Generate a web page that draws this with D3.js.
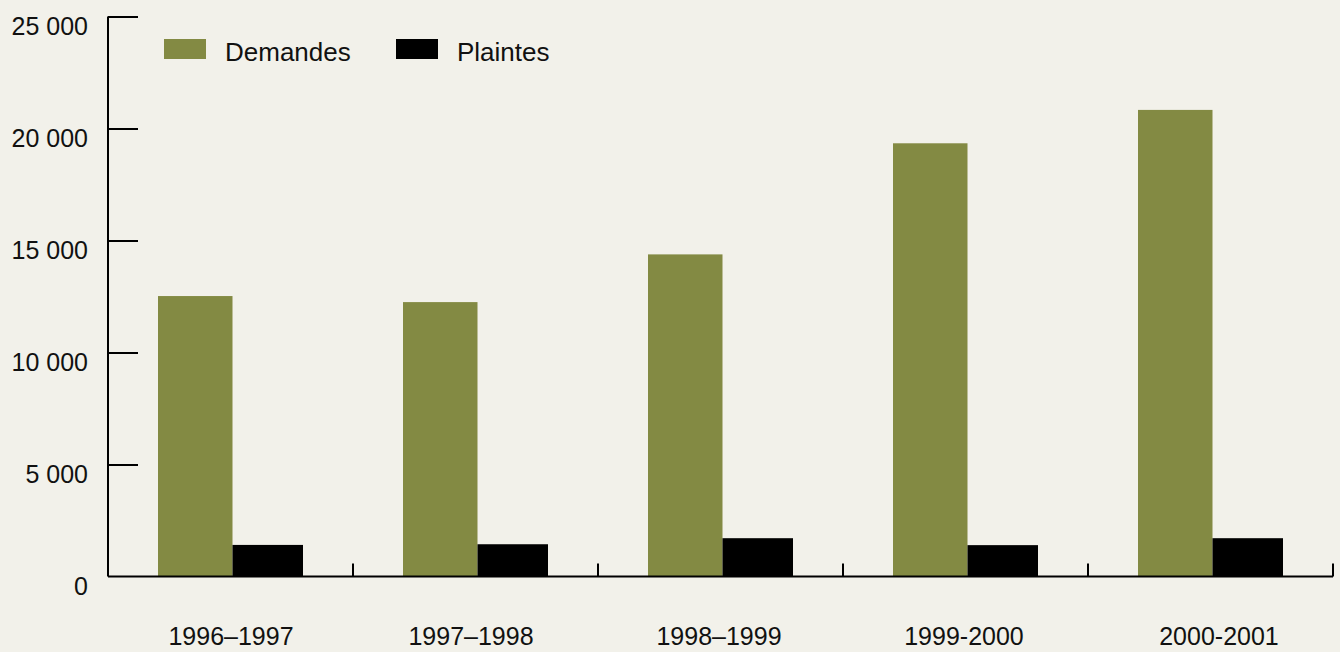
<!DOCTYPE html>
<html lang="fr">
<head>
<meta charset="utf-8">
<script src="https://cdn.jsdelivr.net/npm/d3@7"></script>
<style>
  html, body { margin: 0; padding: 0; background: #f2f1ea; }
  svg { display: block; font-family: "Liberation Sans", Arial, Helvetica, sans-serif; }
</style>
</head>
<body>
<svg id="chart" width="1340" height="652"></svg>
<script>
// Nombre de demandes et de plaintes par exercice
const categories = ["1996–1997", "1997–1998", "1998–1999", "1999-2000", "2000-2001"];
const seriesNames = ["Demandes", "Plaintes"];
const demandes = [12520, 12250, 14380, 19340, 20830];
const plaintes = [1410, 1440, 1710, 1400, 1710];
const yTicks = [0, 5000, 10000, 15000, 20000, 25000];

const colors = { Demandes: "#838a43", Plaintes: "#000000" };

const svg = d3.select("#chart");
const plotLeft = 108, plotRight = 1333, plotTop = 16.5, plotBottom = 576.5;

const x = d3.scaleBand().domain(categories).range([plotLeft, plotRight]).padding(0);
const y = d3.scaleLinear().domain([0, 25000]).range([plotBottom, plotTop]);

// position of each series inside its category band
const barOffset = d3.scaleOrdinal().domain(seriesNames).range([50, 124.5]);
const barWidth = d3.scaleOrdinal().domain(seriesNames).range([74.5, 70.5]);
// small horizontal nudges of the category labels under each band
const labelNudge = d3.scaleOrdinal().domain(categories).range([2, -3, 0, 0, 10]);

const rows = categories.map((c, i) => ({ cat: c, Demandes: demandes[i], Plaintes: plaintes[i] }));

// bars
const groups = svg.append("g").selectAll("g")
  .data(rows).join("g")
  .attr("transform", d => `translate(${x(d.cat)},0)`);

groups.selectAll("rect")
  .data(d => seriesNames.map(s => ({ s, v: d[s] })))
  .join("rect")
  .attr("x", d => barOffset(d.s))
  .attr("width", d => barWidth(d.s))
  .attr("y", d => y(d.v))
  .attr("height", d => y(0) - y(d.v))
  .attr("fill", d => colors[d.s]);

// y axis: ticks point inward, labels top-aligned with tick
const yAxis = d3.axisRight(y).tickValues(yTicks).tickSize(30)
  .tickFormat(d => d3.format(",")(d).replace(/,/g, " "));
const gy = svg.append("g").attr("transform", `translate(${plotLeft},0)`).call(yAxis);
gy.select(".domain").attr("stroke", "#000").attr("stroke-width", 2)
  .attr("d", `M0,${plotTop}V${plotBottom}`);
gy.selectAll(".tick line").attr("stroke", "#000").attr("stroke-width", 2);
gy.selectAll(".tick text")
  .attr("x", -20).attr("dy", "0.7em")
  .attr("text-anchor", "end")
  .attr("fill", "#111").attr("font-size", 25);
gy.selectAll(".tick").filter(d => d === 0).select("line").remove();

// x axis: boundary ticks pointing up, labels below
const gx = svg.append("g").attr("transform", `translate(0,${plotBottom})`);
gx.append("line").attr("x1", plotLeft).attr("x2", plotRight)
  .attr("stroke", "#000").attr("stroke-width", 2);
const boundaries = categories.slice(1).map(c => x(c)).concat([plotRight]);
gx.selectAll("line.bound").data(boundaries).join("line")
  .attr("class", "bound")
  .attr("x1", d => d).attr("x2", d => d)
  .attr("y1", 0).attr("y2", -13)
  .attr("stroke", "#000").attr("stroke-width", 2);
gx.selectAll("text").data(categories).join("text")
  .attr("x", d => x(d) + 121 + labelNudge(d))
  .attr("y", 68.5)
  .attr("text-anchor", "middle")
  .attr("fill", "#111").attr("font-size", 25)
  .text(d => d);

// legend
const legend = svg.append("g").attr("transform", "translate(164,39)");
const items = legend.selectAll("g").data(seriesNames).join("g")
  .attr("transform", (d, i) => `translate(${i * 232},0)`);
items.append("rect").attr("width", 42).attr("height", 20).attr("fill", d => colors[d]);
items.append("text").attr("x", 61).attr("y", 22).attr("font-size", 26)
  .attr("fill", "#111").text(d => d);
</script>
</body>
</html>
